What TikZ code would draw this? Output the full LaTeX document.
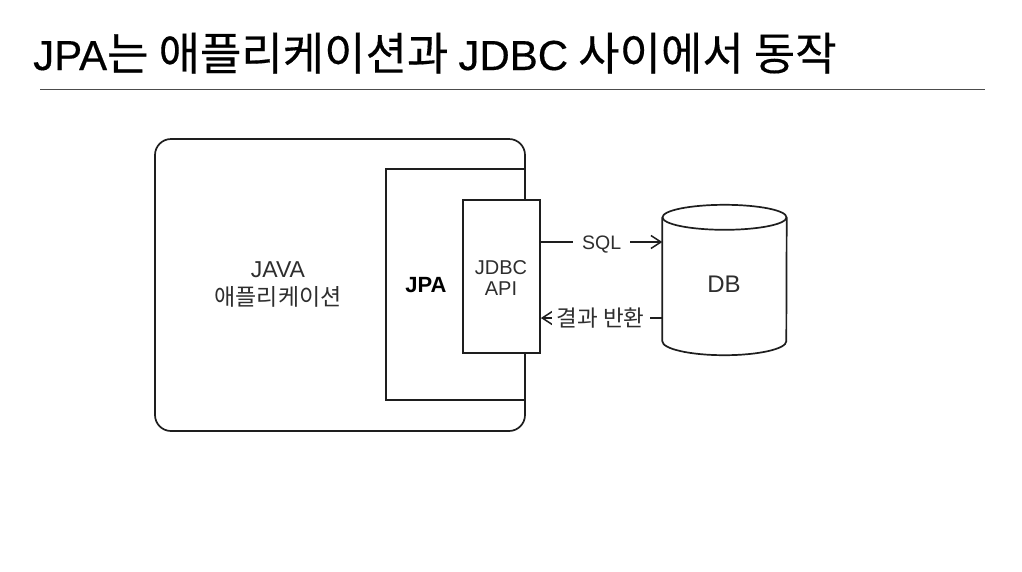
\documentclass[tikz,border=0pt]{standalone}
\usepackage{fontspec}
\setmainfont{Noto Sans CJK KR}
\newfontfamily\lat{Liberation Sans}
\newfontfamily\tlat[FakeBold=0.4]{Liberation Sans}
\newfontfamily\tkor[FakeBold=0.3]{Noto Sans CJK KR}
\usetikzlibrary{arrows.meta}
\definecolor{ink}{HTML}{1E1E1E}
\definecolor{txt}{HTML}{2E2E2E}
\begin{document}
\begin{tikzpicture}[x=1pt,y=-1pt,
  box/.style={draw=ink, line width=1.7pt, inner sep=0pt},
  lbl/.style={text=txt, font=\fontsize{23}{26}\selectfont, align=center},
  conn/.style={draw=ink, line width=1.5pt, -{Straight Barb[length=10pt,width=13pt,line width=1.5pt]}},
  onlbl/.style={fill=white, text=txt, inner xsep=9pt, inner ysep=2pt}
]
\useasboundingbox (0,0) rectangle (1022,571);
\fill[white] (0,0) rectangle (1022,571);

% title
\node[anchor=base west, inner sep=0pt, font=\tkor\fontsize{45}{50}\selectfont] (title) at (33,70)
  {{\tlat\fontsize{42}{44}\selectfont JPA}는 애플리케이션과 {\tlat\fontsize{42}{44}\selectfont JDBC} 사이에서 동작};
\coordinate (rl) at (40,89);
\coordinate (rr) at (985,89);
\draw[line width=0.9pt, draw=black!70] (rl) -- (rr);

% boxes
\node[box, rounded corners=16pt, minimum width=370pt, minimum height=292pt] (app) at (340,285) {};
\node[lbl] (apptext) at (278,284) {{\lat JAVA}\\[2pt]애플리케이션};
\node[box, minimum width=139pt, minimum height=231pt] (jpa) at (455.5,284.5) {};
\node[font=\lat\bfseries\fontsize{22}{24}\selectfont] (jpatext) at (426,285) {JPA};
\node[box, fill=white, minimum width=77pt, minimum height=153pt] (jdbc) at (501.5,276.5) {};
\node[text=txt, align=center, font=\lat\fontsize{20}{21}\selectfont] (jdbctext) at (501,278) {JDBC\\API};

% database cylinder
\node[minimum width=124pt, minimum height=150pt, inner sep=0pt] (db) at (724.5,280) {};
\draw[draw=black!25, line width=3pt, opacity=0.6]
  ([yshift=14pt, xshift=3pt]db.south west)
  arc[start angle=180, end angle=360, x radius=59pt, y radius=13pt];
\draw[draw=ink, line width=1.7pt, fill=white]
  ([yshift=-12.5pt]db.north west) -- ([yshift=14pt]db.south west)
  arc[start angle=180, end angle=360, x radius=62pt, y radius=14pt]
  -- ([yshift=-12.5pt]db.north east);
\draw[draw=ink, line width=1.7pt] ([yshift=-12.5pt]db.north) ellipse [x radius=62pt, y radius=12.5pt];
\node[text=txt, font=\lat\fontsize{24}{26}\selectfont] (dbtext) at (724,284) {DB};

% connectors
\coordinate (sqlA) at (jdbc.east |- 0,242);
\coordinate (sqlB) at (db.west |- 0,242);
\coordinate (resA) at (db.west |- 0,318);
\coordinate (resB) at (jdbc.east |- 0,318);
\draw[conn] (sqlA) -- node[onlbl, yshift=-3pt, font=\lat\fontsize{19.5}{21}\selectfont] {SQL} (sqlB);
\draw[conn] (resA) -- node[onlbl, inner xsep=5pt, xshift=-1pt, font=\fontsize{22.5}{24}\selectfont] {결과 반환} (resB);
\end{tikzpicture}
\end{document}
